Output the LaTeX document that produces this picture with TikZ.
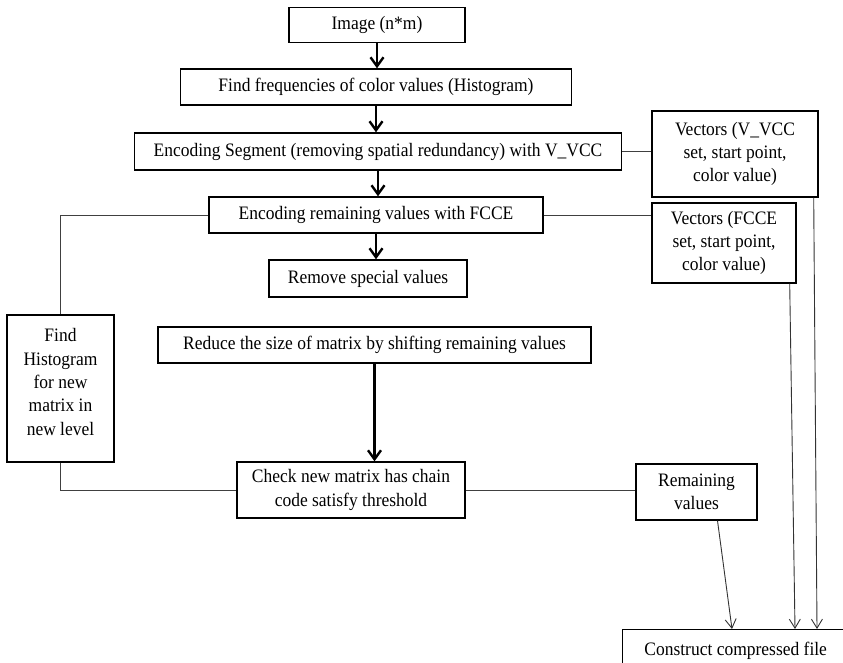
\documentclass[tikz,border=0pt]{standalone}
\usepackage{fontspec}
\setmainfont[FakeStretch=0.92]{Liberation Serif}
\usetikzlibrary{arrows.meta,calc}
\begin{document}
\begin{tikzpicture}[x=1pt,y=-1pt,
  box/.style={draw=black,line width=1.4pt,rectangle,inner sep=0pt,align=center,
    font=\fontsize{19}{23.3}\selectfont},
  txt/.style={inner sep=0pt,align=center,font=\fontsize{19}{23.3}\selectfont},
  flow/.style={line width=2.6pt,-{Straight Barb[length=9pt,width=13pt,line width=2.4pt]}},
  link/.style={line width=0.9pt,draw=black!75},
  linkarrow/.style={line width=0.9pt,draw=black!80,-{Straight Barb[length=9pt,width=11pt,line width=0.9pt]}}]
\useasboundingbox (0,0) rectangle (843,663);
\node[box,minimum width=176pt,minimum height=35pt] (img) at (377,25) {Image (n*m)};
\node[box,minimum width=391pt,minimum height=36pt] (freq) at (376,87) {Find frequencies of color values (Histogram)};
\node[box,minimum width=487pt,minimum height=37pt] (seg) at (378,151.5) {Encoding Segment (removing spatial redundancy) with V\_VCC};
\node[box,minimum width=166pt,minimum height=86pt] (vvcc) at (735,154) {Vectors (V\_VCC\\set, start point,\\color value)};
\node[box,minimum width=334pt,minimum height=36pt] (fcce) at (376,215) {Encoding remaining values with FCCE};
\node[box,minimum width=144pt,minimum height=80pt] (vfcce) at (724,243) {Vectors (FCCE\\set, start point,\\color value)};
\node[box,minimum width=198pt,minimum height=37pt] (remove) at (368,278.5) {Remove special values};
\node[box,minimum width=107pt,minimum height=147pt] (hist) at (60.5,388.5) {};
\node[txt] (histtext) at (60.5,382) {Find\\Histogram\\for new\\matrix in\\new level};
\node[box,minimum width=433pt,minimum height=36pt] (reduce) at (374.5,345) {Reduce the size of matrix by shifting remaining values};
\node[box,minimum width=228pt,minimum height=56pt] (check) at (351,490) {Check new matrix has chain\\code satisfy threshold};
\node[box,minimum width=121pt,minimum height=56pt] (remain) at (696.5,492) {Remaining\\values};
\node[box,minimum width=226pt,minimum height=42pt,anchor=north west] (construct) at (622,629) {Construct compressed file};
% main flow
\draw[flow] (img.south) -- (img.south |- freq.north);
\draw[flow] (freq.south) -- (freq.south |- seg.north);
\draw[flow] (seg.south) -- (seg.south |- fcce.north);
\draw[flow] (fcce.south) -- (fcce.south |- remove.north);
\draw[flow] (reduce.south) -- (reduce.south |- check.north);
% side links
\draw[link] (seg.east) -- (seg.east -| vvcc.west);
\draw[link] (fcce.east) -- (fcce.east -| vfcce.west);
\draw[link] (fcce.west) -| (hist.north);
\draw[link] (hist.south) |- (check.west);
\draw[link] (check.east) -- (check.east -| remain.west);
% to construct
\coordinate (r1) at ($(remain.south)+(21,0)$);
\coordinate (c1) at ($(construct.north west)+(110,0)$);
\draw[linkarrow] (r1) -- (c1);
\coordinate (f1) at ($(vfcce.south east)+(-7,0)$);
\coordinate (c2) at ($(construct.north west)+(173,0)$);
\draw[linkarrow] (f1) -- (c2);
\coordinate (v1) at ($(vvcc.south east)+(-5,0)$);
\coordinate (c3) at ($(construct.north west)+(195,0)$);
\draw[linkarrow] (v1) -- (c3);
\end{tikzpicture}
\end{document}
